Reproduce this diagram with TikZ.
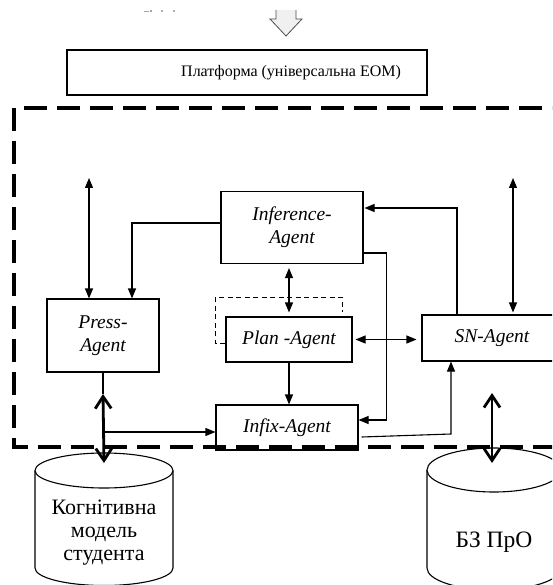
\documentclass[tikz,border=0pt]{standalone}
\usepackage{fontspec}
\setmainfont{Liberation Serif}
\usetikzlibrary{arrows.meta}
\begin{document}
\begin{tikzpicture}[x=1pt,y=-1pt,
  agent/.style={draw, line width=1.1pt, fill=white, inner sep=0pt,
    font=\fontsize{19.5}{23}\selectfont\itshape, align=center},
  thin/.style={line width=1.1pt},
  tip/.style={-{Triangle[length=10pt,width=8pt]}},
  dtip/.style={{Triangle[length=10pt,width=8pt]}-{Triangle[length=10pt,width=8pt]}},
  heavy/.style={line width=2.8pt,
    {Straight Barb[length=12pt,width=16pt]}-{Straight Barb[length=12pt,width=16pt]}},
  frame/.style={line width=3.2pt, dash pattern=on 23pt off 10pt},
  subframe/.style={line width=1pt, dash pattern=on 5pt off 3.5pt},
  dbase/.style={line width=1.1pt, fill=white},
  dblabel/.style={font=\fontsize{22}{23}\selectfont, align=center, inner sep=0pt}
]
\useasboundingbox (0,0) rectangle (552,585);
\begin{scope}
\clip (0,0) rectangle (552,585);

% faint marks above the input arrow
\fill[gray!70] (144,11.5) rectangle (149,12.5);
\fill[gray!70] (150,10.5) rectangle (152,12.5);
\fill[gray!60] (161,10.5) rectangle (163,12.5);
\fill[gray!60] (173,10.5) rectangle (175,12.5);

% input block arrow
\filldraw[fill=gray!12, draw=gray!60!black, line width=0.8pt]
  (276,10) -- (276,19) -- (270,19) -- (286,36) -- (302,19) -- (296,19) -- (296,10);

% platform
\node[draw, line width=1.1pt, minimum width=360pt, minimum height=45pt, inner sep=0pt]
  (platform) at (247,72.5) {};
\node[anchor=west, inner sep=0pt, font=\fontsize{16}{19}\selectfont]
  (platformtext) at (181,73) {Платформа (універсальна ЕОМ)};

% agents
\node[agent, minimum width=142pt, minimum height=72pt] (inference) at (292,227.5) {Inference-\\Agent};
\node[agent, minimum width=112pt, minimum height=73pt] (press) at (103,335.5) {Press-\\Agent};
\node[agent, minimum width=126pt, minimum height=45pt] (plan) at (289,339.5) {Plan -Agent};
\node[agent, minimum width=140pt, minimum height=46pt] (sn) at (492,338) {SN-Agent};
\node[agent, minimum width=142pt, minimum height=45pt] (infix) at (287,427.5) {Infix-Agent};

% dashed corner around the planner
\draw[subframe] ([yshift=-3.5pt]plan.west) -- ++(-10,0)
  |- ([xshift=-10pt,yshift=19pt]plan.north east) -- ([xshift=-10pt,yshift=4pt]plan.north east);

% free ends and bends
\coordinate (pressUp) at (89,178);
\coordinate (snUp) at (513,178);
\coordinate (pressJoin) at (103,394);
\coordinate (branch) at (103,432);
\coordinate (snLow) at (492,393);
\coordinate (kink) at (451,434);

% connectors
\draw[thin,dtip] (pressUp) -- (pressUp |- press.north);
\draw[thin,tip] ([yshift=4.5pt]inference.west) -| ([xshift=29pt]press.north);
\draw[thin,dtip,shorten <=4pt,shorten >=4pt] (plan.north |- inference.south) -- (plan.north);
\draw[thin,tip] (plan.south) -- (plan.south |- infix.north);
\draw[thin,dtip,shorten <=3pt,shorten >=5pt] (plan.east) -- (plan.east -| sn.west);
\draw[thin,tip] ([xshift=-35pt]sn.north) |- ([xshift=1pt,yshift=19.5pt]inference.east);
\draw[thin,tip] ([yshift=-25.5pt]inference.east) -- ++(23,0) |- ([yshift=7.5pt]infix.east);
\draw[thin,dtip,shorten >=2pt] (snUp) -- (snUp |- sn.north);
\draw[thin,tip] ([xshift=3pt,yshift=-9.5pt]infix.east) -- (kink) -- (kink |- sn.south);
\draw[thin] (press.south) -- (pressJoin);
\draw[thin,tip] (branch) -- (branch -| infix.west);

% databases
\draw[dbase] (35,470.5) -- (35,568) arc[start angle=180, end angle=360, x radius=69pt, y radius=17.5pt] -- (173,470.5);
\draw[dbase] (104,470.5) ellipse [x radius=69pt, y radius=17.5pt];
\node[dblabel] (cogmodel) at (104,533) {Когнітивна\\модель\\студента};
\coordinate (cogtop) at (104,463);

\draw[dbase] (427,470) -- (427,568) arc[start angle=180, end angle=360, x radius=67pt, y radius=22pt] -- (561,470);
\draw[dbase] (494,470) ellipse [x radius=67pt, y radius=22pt];
\node[dblabel, font=\fontsize{23.5}{24}\selectfont] (kb) at (494,542) {БЗ ПрО};
\coordinate (kbtop) at (492,463);

% exchange with the databases
\draw[heavy] (pressJoin) -- (cogtop);
\draw[heavy] (snLow) -- (kbtop);

% boundary of the agent system
\draw[frame] (575,108) -- (14,108) -- (14,447) -- (575,447);
\end{scope}
\end{tikzpicture}
\end{document}
